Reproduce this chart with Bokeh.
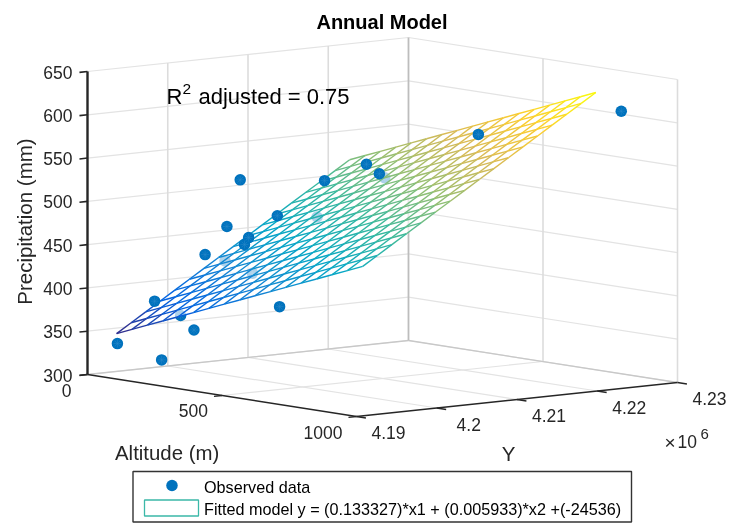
import math
import numpy as np
from bokeh.plotting import figure
from bokeh.models import Range1d
from bokeh.core.properties import value
from bokeh.embed import file_html
from bokeh.resources import INLINE

# ---------- data ----------
altitude = [36, 243, 76, 208, 265, 413, 177, 33, 261, 81, 133, 125, 122, 99, 85, 208, 188, 321, 317, 630, 982]
northing = [4192520, 4191092, 4195816, 4194628, 4194384, 4200092, 4198720, 4206036, 4201804, 4204656,
            4204572, 4205892, 4205468, 4210336, 4216692, 4211636, 4218456, 4215608, 4216420, 4217588, 4223596]
precip = [335.0, 327.6, 382.7, 373.7, 360.0, 388.5, 438.5, 417.0, 418.1, 460.5, 517.0,
          448.6, 440.9, 468.2, 501.8, 470.8, 524.1, 522.3, 516.6, 580.8, 618.8]
coef_alt, coef_north, intercept = 0.133327, 0.005933, -24535.0
mesh_alt_lim = [14, 929]
mesh_north_lim = [4193156, 4222200]
mesh_cells = 16
alt_ticks = [0, 500, 1000]
north_ticks = [4190000, 4200000, 4210000, 4220000, 4230000]
z_ticks = [300, 350, 400, 450, 500, 550, 600, 650]
alt_labels = ["0", "500", "1000"]
north_labels = ["4.19", "4.2", "4.21", "4.22", "4.23"]
z_labels = ["300", "350", "400", "450", "500", "550", "600", "650"]
parula = ["#352a87", "#0363e1", "#1485d4", "#06a7c6", "#38b99e", "#92bf73", "#d9ba56", "#fcce2e", "#f9fb0e"]

TITLE = "Annual Model"
LEG1 = "Observed data"
LEG2 = "Fitted model y = (0.133327)*x1 + (0.005933)*x2 +(-24536)"

# ---------- 3D view of the axes box ----------
def proj(alt, north, z):
    a = (np.asarray(alt, float) - 0) / 1000
    b = (np.asarray(north, float) - 4190000) / 40000
    c = (np.asarray(z, float) - 300) / 350
    return 87 + 269 * a + 321 * b, 374 + 42 * a - 34 * b - 303 * c

def seg(p, pts_from, pts_to, **kw):
    x0, y0 = proj(*zip(*pts_from))
    x1, y1 = proj(*zip(*pts_to))
    p.segment(x0, y0, x1, y1, **kw)

p = figure(width=729, height=523, output_backend="svg", toolbar_location=None,
           x_range=Range1d(0, 729), y_range=Range1d(523, 0), min_border=0,
           x_axis_type=None, y_axis_type=None, outline_line_color=None, background_fill_color="white")
p.grid.visible = False
p.styles = {"position": "fixed", "left": "0", "top": "0"}

A0, A1 = alt_ticks[0], alt_ticks[-1]
N0, N1 = north_ticks[0], north_ticks[-1]
Z0, Z1 = z_ticks[0], z_ticks[-1]
GRID = dict(line_color="#e3e3e3", line_width=1.2)

# grids: altitude=0 wall, far northing wall, floor
seg(p, [(A0, N0, z) for z in z_ticks], [(A0, N1, z) for z in z_ticks], **GRID)
seg(p, [(A0, N1, z) for z in z_ticks], [(A1, N1, z) for z in z_ticks], **GRID)
seg(p, [(A0, n, Z0) for n in north_ticks[1:-1]], [(A0, n, Z1) for n in north_ticks[1:-1]], line_color="#dcdcdc", line_width=1.6)
seg(p, [(a, N1, Z0) for a in alt_ticks[1:]], [(a, N1, Z1) for a in alt_ticks[1:]], line_color="#dcdcdc", line_width=1.6)
seg(p, [(a, N0, Z0) for a in alt_ticks[1:-1]], [(a, N1, Z0) for a in alt_ticks[1:-1]], **GRID)
seg(p, [(A0, n, Z0) for n in north_ticks[1:-1]], [(A1, n, Z0) for n in north_ticks[1:-1]], **GRID)
seg(p, [(A0, N0, Z0), (A0, N1, Z0)], [(A0, N1, Z0), (A1, N1, Z0)], line_color="#c8c8c8", line_width=1.3)
seg(p, [(A0, N1, Z0)], [(A0, N1, Z1)], line_color="#bdbdbd", line_width=1.8)

# observed data: below the plane first (seen through the mesh face)
alt = np.array(altitude, float)
nor = np.array(northing, float)
pre = np.array(precip, float)
plane = coef_alt * alt + coef_north * nor + intercept
below = pre < plane
px, py = proj(alt, nor, pre)

def dots(mask):
    p.scatter(px[mask], py[mask], size=11.5, marker="circle", fill_color="#0072BD", line_color=None)
    p.scatter(px[mask], py[mask], size=8, marker="asterisk", line_color="#2a88c8", line_width=0.5)

dots(below)

# fitted surface
ma = np.linspace(mesh_alt_lim[0], mesh_alt_lim[1], mesh_cells + 1)
mn = np.linspace(mesh_north_lim[0], mesh_north_lim[1], mesh_cells + 1)
def fit(a, n):
    return coef_alt * a + coef_north * n + intercept

cx = [mesh_alt_lim[0], mesh_alt_lim[1], mesh_alt_lim[1], mesh_alt_lim[0]]
cn = [mesh_north_lim[0], mesh_north_lim[0], mesh_north_lim[1], mesh_north_lim[1]]
qx, qy = proj(cx, cn, [fit(a, n) for a, n in zip(cx, cn)])
p.patch(qx, qy, fill_color="white", fill_alpha=0.68, line_color=None)

zmin = fit(ma[0], mn[0])
zmax = fit(ma[-1], mn[-1])
def colour(z):
    t = (z - zmin) / (zmax - zmin) * (len(parula) - 1)
    i = min(int(t), len(parula) - 2)
    f = t - i
    c0 = [int(parula[i][k:k + 2], 16) for k in (1, 3, 5)]
    c1 = [int(parula[i + 1][k:k + 2], 16) for k in (1, 3, 5)]
    return "#%02x%02x%02x" % tuple(int(round(u + (v - u) * f)) for u, v in zip(c0, c1))

sa0, sn0, sa1, sn1 = [], [], [], []
for i in range(mesh_cells + 1):
    for j in range(mesh_cells):
        sa0.append(ma[i]); sn0.append(mn[j]); sa1.append(ma[i]); sn1.append(mn[j + 1])
        sa0.append(ma[j]); sn0.append(mn[i]); sa1.append(ma[j + 1]); sn1.append(mn[i])
sa0, sn0, sa1, sn1 = map(np.array, (sa0, sn0, sa1, sn1))
x0, y0 = proj(sa0, sn0, fit(sa0, sn0))
x1, y1 = proj(sa1, sn1, fit(sa1, sn1))
cols = [colour(z) for z in fit((sa0 + sa1) / 2, (sn0 + sn1) / 2)]
p.segment(x0, y0, x1, y1, line_color=cols, line_width=1.4)

dots(~below)

# axis lines and ticks
seg(p, [(A0, N0, Z0)], [(A0, N0, Z1)], line_color="#262626", line_width=2.4)
seg(p, [(A0, N0, Z0)], [(A1, N0, Z0)], line_color="#262626", line_width=1.5)
seg(p, [(A1, N0, Z0)], [(A1, N1, Z0)], line_color="#262626", line_width=1.5)
TICK = 1000
seg(p, [(A0, N0, z) for z in z_ticks], [(A0, N0 - TICK, z) for z in z_ticks], line_color="#262626", line_width=1.6)
seg(p, [(a, N0, Z0) for a in alt_ticks], [(a, N0 - TICK, Z0) for a in alt_ticks], line_color="#262626", line_width=1.4)
seg(p, [(A1, n, Z0) for n in north_ticks], [(A1 + 35, n, Z0) for n in north_ticks], line_color="#262626", line_width=1.4)

def txt(x, y, s, size, align="left", color="#262626", style="normal", angle=0.0):
    p.text([x], [y], text=[s], text_font=value("Liberation Sans"), text_font_size=f"{size}px",
           text_align=align, text_baseline="middle", text_color=color, text_font_style=style, angle=angle)

# tick labels
_, zy = proj([A0] * len(z_ticks), [N0] * len(z_ticks), z_ticks)
for y, s in zip(zy, z_labels):
    txt(72, y + 0.5, s, 17.5, "right")
ax, ay = proj(alt_ticks, [N0] * 3, [Z0] * 3)
for x, y, s, off in zip(ax, ay, alt_labels, [(-16, 16), (-14, 15), (-14, 15.5)]):
    txt(x + off[0], y + off[1], s, 17.5, "right")
nx, ny = proj([A1] * 5, north_ticks, [Z0] * 5)
for x, y, s in zip(nx, ny, north_labels):
    txt(x + 32, y + 16, s, 17.5, "center")

# labels and title
txt(381.5, 21.5, TITLE, 20, "center", "#000000", "bold")
txt(24, 221, "Precipitation (mm)", 20.5, "center", angle=math.pi / 2)
txt(114.5, 452, "Altitude (m)", 20.4, "left")
txt(508, 453, "Y", 20.5, "center")
txt(664, 442, "\u00d7", 19, "left")
txt(677, 441, "10", 17.5, "left")
txt(700, 433, "6", 15, "left")

# R² note
txt(166, 95.5, "R", 22, "left", "#000000")
txt(182, 88, "2", 15.5, "left", "#000000")
txt(198, 95.5, "adjusted = 0.75", 22, "left", "#000000")

# legend
p.quad(left=[132.5], right=[631], top=[471], bottom=[521.5], fill_color="white", line_color="#333333", line_width=1.4)
p.scatter([171.5], [485], size=11.5, marker="circle", fill_color="#0072BD", line_color=None)
p.quad(left=[144], right=[198], top=[499.5], bottom=[515.5], fill_color="white", line_color="#3bb8a8", line_width=1.3)
txt(203.5, 486, LEG1, 16.2, "left", "#000000")
txt(203.5, 508, LEG2, 16.2, "left", "#000000")

open("out.html", "w").write(file_html(p, INLINE))
